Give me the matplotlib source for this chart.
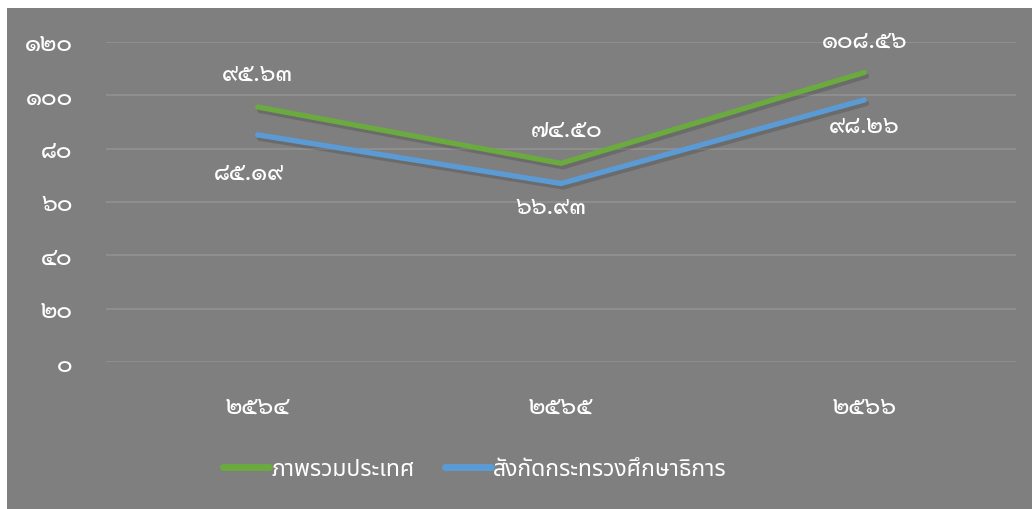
import matplotlib
matplotlib.use('Agg')
import matplotlib.pyplot as plt
import matplotlib.patheffects as pe
from matplotlib.patches import Rectangle

# data
years = ['๒๕๖๔', '๒๕๖๕', '๒๕๖๖']
overall = [95.63, 74.50, 108.56]
moe = [85.19, 66.93, 98.26]
overall_labels = ['๙๕.๖๓', '๗๔.๕๐', '๑๐๘.๕๖']
moe_labels = ['๘๕.๑๙', '๖๖.๙๓', '๙๘.๒๖']
yticks = [0, 20, 40, 60, 80, 100, 120]
ytick_labels = ['๐', '๒๐', '๔๐', '๖๐', '๘๐', '๑๐๐', '๑๒๐']
series_names = ['ภาพรวมประเทศ', 'สังกัดกระทรวงศึกษาธิการ']

# label placement (points), like excel's auto positions
overall_off = [(0, 24), (4, 24), (0, 23)]
moe_off = [(-6, -27), (-7, -17), (0, -19)]

digit_font = ['Sarabun', 'Loma', 'DejaVu Sans']
text_font = ['Noto Sans Thai', 'Loma', 'DejaVu Sans']
bg = '#7f7f7f'
green = '#6aaa3f'
blue = '#5b9bd5'

fig = plt.figure(figsize=(10.32, 5.10), dpi=100, facecolor='white')
fig.patches.append(Rectangle((7 / 1032, 0), 1, 1 - 9 / 510, transform=fig.transFigure,
                             facecolor=bg, edgecolor='none', zorder=-10))

ax = fig.add_axes([106 / 1032, 1 - 363 / 510, 910 / 1032, 320 / 510])
ax.set_facecolor('none')

x = list(range(len(years)))
shadow = [pe.SimpleLineShadow(offset=(1.5, -2.5), shadow_color='#333333', alpha=0.25), pe.Normal()]
l1, = ax.plot(x, overall, color=green, linewidth=3.8, solid_capstyle='round',
              solid_joinstyle='miter', zorder=3, path_effects=shadow)
l2, = ax.plot(x, moe, color=blue, linewidth=3.8, solid_capstyle='round',
              solid_joinstyle='miter', zorder=3, path_effects=shadow)

for xi, v, lab, off in zip(x, overall, overall_labels, overall_off):
    ax.annotate(lab, (xi, v), xytext=off, textcoords='offset points', ha='center', va='center',
                color='white', fontsize=17, fontweight='medium', family=digit_font)
for xi, v, lab, off in zip(x, moe, moe_labels, moe_off):
    ax.annotate(lab, (xi, v), xytext=off, textcoords='offset points', ha='center', va='center',
                color='white', fontsize=17, fontweight='medium', family=digit_font)

ax.set_xlim(-0.5, 2.5)
ax.set_ylim(0, 120)
ax.set_yticks(yticks)
ax.set_yticklabels(ytick_labels)
ax.set_xticks(x)
ax.set_xticklabels(years)
for t in ax.get_yticklabels() + ax.get_xticklabels():
    t.set_family(digit_font)
    t.set_fontsize(17)
    t.set_fontweight('medium')
    t.set_color('white')
ax.tick_params(axis='y', length=0, pad=24)
ax.tick_params(axis='x', length=0, pad=24)
ax.grid(axis='y', color='#929292', linewidth=1.2)
ax.set_axisbelow(True)
for s in ax.spines.values():
    s.set_visible(False)

leg = fig.legend([l1, l2], series_names, loc='center', bbox_to_anchor=(475 / 1032, 1 - 470 / 510),
                 ncol=2, frameon=False, handlelength=2.0, handletextpad=0.1, columnspacing=1.3,
                 prop={'family': text_font, 'size': 16.5})
for t in leg.get_texts():
    t.set_color('white')
for h in leg.legend_handles:
    h.set_path_effects([])
    h.set_linewidth(5)

fig.savefig('out.png', dpi=100, facecolor='white')
